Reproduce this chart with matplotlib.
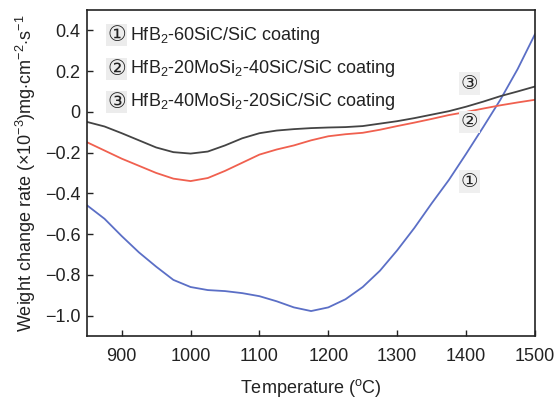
import numpy as np
import matplotlib.pyplot as plt
from matplotlib.ticker import FixedLocator, FixedFormatter

plt.rcParams['font.family'] = ['Liberation Sans', 'DejaVu Sans']
plt.rcParams['mathtext.fontset'] = 'custom'
plt.rcParams['mathtext.rm'] = 'Liberation Sans'
plt.rcParams['mathtext.it'] = 'Liberation Sans:italic'
plt.rcParams['axes.unicode_minus'] = True

# temperature grid (degC)
temp = [850, 875, 900, 925, 950, 975, 1000, 1025, 1050, 1075, 1100, 1125, 1150,
        1175, 1200, 1225, 1250, 1275, 1300, 1325, 1350, 1375, 1400, 1425, 1450,
        1475, 1500]

# (1) HfB2-60SiC/SiC
rate_1 = [-0.46, -0.525, -0.61, -0.69, -0.76, -0.825, -0.86, -0.875, -0.88, -0.89,
          -0.905, -0.93, -0.96, -0.978, -0.96, -0.92, -0.86, -0.78, -0.68, -0.57,
          -0.45, -0.335, -0.207, -0.075, 0.06, 0.21, 0.38]
# (2) HfB2-20MoSi2-40SiC/SiC
rate_2 = [-0.15, -0.19, -0.23, -0.265, -0.30, -0.328, -0.34, -0.325, -0.29, -0.25,
          -0.21, -0.185, -0.165, -0.14, -0.12, -0.11, -0.103, -0.088, -0.07, -0.053,
          -0.035, -0.016, -0.001, 0.016, 0.032, 0.046, 0.059]
# (3) HfB2-40MoSi2-20SiC/SiC
rate_3 = [-0.05, -0.072, -0.105, -0.14, -0.175, -0.198, -0.205, -0.195, -0.165, -0.13,
          -0.105, -0.092, -0.085, -0.08, -0.077, -0.075, -0.07, -0.058, -0.046, -0.031,
          -0.014, 0.003, 0.025, 0.05, 0.077, 0.10, 0.124]

labels = [r'HfB$_2$-60SiC/SiC coating',
          r'HfB$_2$-20MoSi$_2$-40SiC/SiC coating',
          r'HfB$_2$-40MoSi$_2$-20SiC/SiC coating']
marks = ['\u2460', '\u2461', '\u2462']

xticks = [900, 1000, 1100, 1200, 1300, 1400, 1500]
yticks = [0.4, 0.2, 0, -0.2, -0.4, -0.6, -0.8, -1.0]
ytick_labels = ['0.4', '0.2', '0', '\u22120.2', '\u22120.4', '\u22120.6', '\u22120.8', '\u22121.0']

fig = plt.figure(figsize=(5.56, 3.98), dpi=100)
ax = fig.add_axes([0.157, 0.156, 0.805, 0.819])

ax.plot(temp, rate_1, color='#5b6fc6', lw=1.3)
ax.plot(temp, rate_2, color='#f0604f', lw=1.3)
ax.plot(temp, rate_3, color='#444444', lw=1.3)

ax.set_xlim(850, 1500)
ax.set_ylim(-1.1, 0.5)
ax.xaxis.set_major_locator(FixedLocator(xticks))
ax.yaxis.set_major_locator(FixedLocator(yticks))
ax.yaxis.set_major_formatter(FixedFormatter(ytick_labels))
ax.tick_params(direction='in', length=4, width=1, labelsize=13, colors='#222222')
ax.tick_params(axis='x', pad=9)
ax.tick_params(axis='y', pad=5)
for s in ax.spines.values():
    s.set_linewidth(1.2)
    s.set_color('#222222')

ax.set_xlabel(r'Temperature ($^{\mathrm{o}}$C)', fontsize=13, labelpad=8, color='#222222')
ax.set_ylabel(r'Weight change rate ($\times$10$^{-3}$)mg$\cdot$cm$^{-2}$$\cdot$s$^{-1}$',
              fontsize=13, labelpad=5, color='#222222')

# legend-like text block
for i, (m, lab) in enumerate(zip(marks, labels)):
    yy = [0.923, 0.819, 0.718][i]
    ax.text(0.045, yy, m, transform=ax.transAxes, fontsize=15, va='center', ha='left',
            family=['DejaVu Sans'], color='#222222',
            bbox=dict(boxstyle='square,pad=0.05', fc='#ececec', ec='none'))
    ax.text(0.095, yy, lab, transform=ax.transAxes, fontsize=13, va='center', ha='left',
            color='#222222')

# curve markers
for m, (tx, ty) in zip(marks, [(1405, -0.342), (1405, -0.05), (1405, 0.141)]):
    ax.text(tx, ty, m, fontsize=14, ha='center', va='center', family=['DejaVu Sans'],
            color='#222222',
            bbox=dict(boxstyle='square,pad=0.1', fc='#efefef', ec='none'))

fig.savefig('out.png', dpi=100)
